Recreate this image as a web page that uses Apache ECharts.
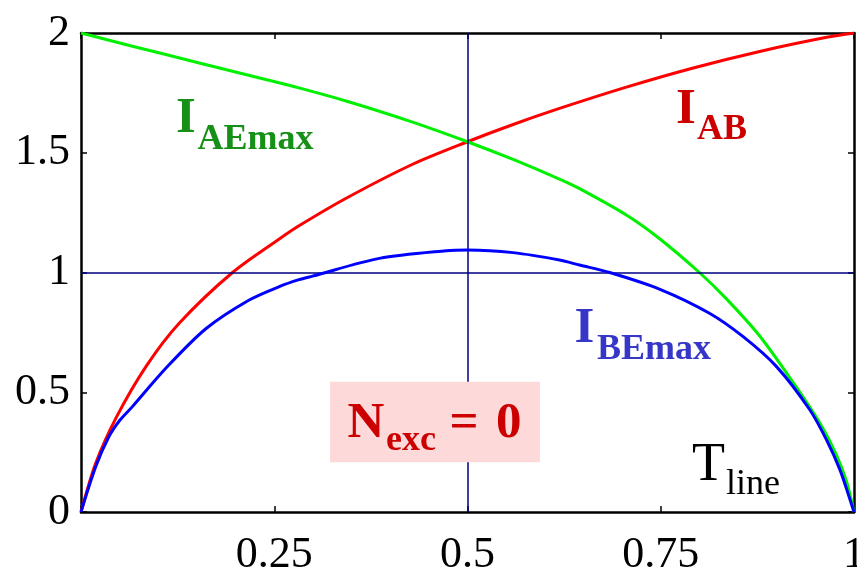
<!DOCTYPE html>
<html>
<head>
<meta charset="utf-8">
<script src="https://cdn.jsdelivr.net/npm/echarts@6/dist/echarts.min.js"></script>
<style>
html,body{margin:0;padding:0;background:#fff;}
#chart{width:857px;height:571px;}
</style>
</head>
<body>
<div id="chart"></div>
<script>
// ---- data ----
const xTicks = [0.25, 0.5, 0.75, 1];
const yTicks = [0, 0.5, 1, 1.5, 2];

// I_AB (red)
const abX = [0, 0.019, 0.045, 0.084, 0.127, 0.196, 0.2565, 0.282, 0.343, 0.429, 0.5, 0.559, 0.619, 0.7055, 0.792, 0.878, 0.9646, 1];
const abY = [0, 0.203, 0.391, 0.607, 0.788, 1.0, 1.14, 1.195, 1.31, 1.452, 1.546, 1.618, 1.685, 1.774, 1.854, 1.923, 1.982, 2];

// I_AEmax (green)
const aeX = [0, 0.0665, 0.153, 0.239, 0.282, 0.343, 0.429, 0.5, 0.559, 0.619, 0.645, 0.7055, 0.749, 0.80, 0.835, 0.878, 0.921, 0.956, 0.9776, 0.9905, 1];
const aeY = [2, 1.945, 1.875, 1.806, 1.771, 1.716, 1.628, 1.546, 1.472, 1.39, 1.35, 1.24, 1.14, 1.0, 0.89, 0.735, 0.542, 0.37, 0.235, 0.125, 0];

// I_BEmax (blue)
const beX = [0, 0.019, 0.036, 0.05, 0.0665, 0.1097, 0.1615, 0.2176, 0.2565, 0.282, 0.2996, 0.386, 0.4724, 0.5, 0.559, 0.619, 0.645, 0.684, 0.749, 0.813, 0.8566, 0.8998, 0.943, 0.9646, 0.982, 0.995, 1];
const beY = [0, 0.189, 0.314, 0.382, 0.44, 0.6, 0.765, 0.885, 0.941, 0.97, 0.985, 1.059, 1.091, 1.094, 1.083, 1.052, 1.031, 1.0, 0.93, 0.83, 0.732, 0.607, 0.426, 0.30, 0.175, 0.05, 0];

const refX = 0.5, refY = 1;

const zip = (xs, ys) => xs.map((x, i) => [x, ys[i]]);

const FONT = 'Liberation Serif';
const chart = echarts.init(document.getElementById('chart'), null, {renderer: 'canvas'});

const axisLine = {show: true, onZero: false, lineStyle: {color: '#000', width: 2.5}};
const axisTick = {show: true, inside: true, length: 6, lineStyle: {color: '#000', width: 1.5}};

function txt(x, y, text, size, color, bold) {
  return {
    type: 'text', z: 100, x: x, y: y,
    style: {
      text: text, fill: color,
      font: (bold ? 'bold ' : '') + size + 'px "' + FONT + '"',
      align: 'left', verticalAlign: 'middle'
    }
  };
}

chart.setOption({
  animation: false,
  backgroundColor: '#fff',
  grid: {left: 81, right: 3, top: 33, bottom: 59, show: false, containLabel: false, outerBoundsMode: 'none'},
  xAxis: [{
    type: 'value', min: 0, max: 1, interval: 0.25, position: 'bottom',
    axisLine: axisLine, axisTick: axisTick, splitLine: {show: false},
    axisLabel: {
      fontFamily: FONT, fontSize: 44, color: '#000', margin: 21,
      hideOverlap: false, showMaxLabel: true,
      formatter: v => (xTicks.indexOf(v) >= 0 ? String(v) : '')
    }
  }, {
    type: 'value', min: 0, max: 1, interval: 0.25, position: 'top',
    axisLine: axisLine, axisTick: axisTick, splitLine: {show: false},
    axisLabel: {show: false}
  }],
  yAxis: [{
    type: 'value', min: 0, max: 2, interval: 0.5, position: 'left',
    axisLine: axisLine, axisTick: axisTick, splitLine: {show: false},
    axisLabel: {
      fontFamily: FONT, fontSize: 44, color: '#000', margin: 11,
      padding: [0, 0, 9, 0],
      formatter: v => (yTicks.indexOf(v) >= 0 ? String(v) : '')
    }
  }, {
    type: 'value', min: 0, max: 2, interval: 0.5, position: 'right',
    axisLine: axisLine, axisTick: axisTick, splitLine: {show: false},
    axisLabel: {show: false}
  }],
  series: [{
    type: 'line', name: 'IAB', data: zip(abX, abY), showSymbol: false, symbol: 'none',
    smooth: 0.3, lineStyle: {color: '#ff0000', width: 3}, z: 3
  }, {
    type: 'line', name: 'IAEmax', data: zip(aeX, aeY), showSymbol: false, symbol: 'none',
    smooth: 0.3, lineStyle: {color: '#00f000', width: 3}, z: 4
  }, {
    type: 'line', name: 'IBEmax', data: zip(beX, beY), showSymbol: false, symbol: 'none',
    smooth: 0.3, lineStyle: {color: '#0000ff', width: 3}, z: 5,
    markLine: {
      silent: true, symbol: 'none', label: {show: false}, animation: false,
      lineStyle: {color: '#000080', width: 1.5, type: 'solid'},
      data: [{xAxis: refX}, {yAxis: refY}]
    }
  }],
  graphic: [
    txt(176, 118.8, 'I', 51, '#169016', true),
    txt(197.5, 139.5, 'AEmax', 36, '#169016', true),
    txt(676, 109.5, 'I', 51, '#cc0000', true),
    txt(697, 129.5, 'AB', 36, '#cc0000', true),
    txt(574.5, 328.8, 'I', 51, '#3636c8', true),
    txt(597, 349.5, 'BEmax', 36, '#3636c8', true),
    {type: 'rect', z: 99, shape: {x: 330, y: 381.7, width: 210, height: 80.6}, style: {fill: '#fdd9d9'}},
    txt(347.5, 423.5, 'N', 51, '#cc0000', true),
    txt(386, 441.2, 'exc', 36, '#cc0000', true),
    txt(449.5, 423.5, '=', 51, '#cc0000', true),
    txt(496, 423.5, '0', 51, '#cc0000', true),
    txt(692, 465.4, 'T', 54, '#000', false),
    txt(726, 484.6, 'line', 36, '#000', false)
  ]
});
</script>
</body>
</html>
